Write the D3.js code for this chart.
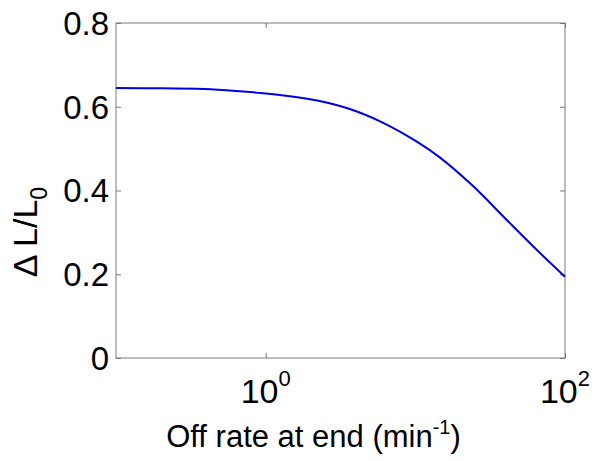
<!DOCTYPE html>
<html>
<head>
<meta charset="utf-8">
<script src="https://cdn.jsdelivr.net/npm/d3@7"></script>
<style>
  body { margin: 0; background: #fff; }
  text { font-family: "Liberation Sans", Arial, sans-serif; fill: #000; }
</style>
</head>
<body>
<svg id="chart" width="600" height="461"></svg>
<script>
// values
const offRate = [0.1, 0.2, 0.43, 0.79, 1.32, 2.21, 3.69, 6.15, 10.3, 14.7, 24.4, 41, 68, 100];
const deltaL  = [0.645, 0.644, 0.642, 0.635, 0.627, 0.615, 0.594, 0.561, 0.516, 0.478, 0.410, 0.329, 0.251, 0.194];

const xTickValues = [1, 100];
const xTickExponents = ['0', '2'];
const yTickValues = [0, 0.2, 0.4, 0.6, 0.8];

const width = 600, height = 461;
const margin = { top: 23, right: 35, bottom: 103, left: 116 };
const innerW = width - margin.left - margin.right;
const innerH = height - margin.top - margin.bottom;

const svg = d3.select('#chart');
const g = svg.append('g').attr('transform', `translate(${margin.left},${margin.top})`);

const x = d3.scaleLog().domain([0.1, 100]).range([0, innerW]);
const y = d3.scaleLinear().domain([0, 0.8]).range([innerH, 0]);

// box
g.append('rect')
  .attr('width', innerW).attr('height', innerH)
  .attr('fill', 'none').attr('stroke', '#7a7a7a').attr('stroke-width', 1);

// ticks point inward, on all four sides
const tickLen = 5;
function styleAxis(sel) {
  sel.select('.domain').remove();
  sel.selectAll('.tick line').attr('stroke', '#7a7a7a');
}

g.append('g').attr('transform', `translate(0,${innerH})`)
  .call(d3.axisBottom(x).tickValues(xTickValues).tickSize(-tickLen).tickFormat(''))
  .call(styleAxis);
g.append('g')
  .call(d3.axisTop(x).tickValues(xTickValues).tickSize(-tickLen).tickFormat(''))
  .call(styleAxis);
g.append('g')
  .call(d3.axisLeft(y).tickValues(yTickValues).tickSize(-tickLen).tickFormat(''))
  .call(styleAxis);
g.append('g').attr('transform', `translate(${innerW},0)`)
  .call(d3.axisRight(y).tickValues(yTickValues).tickSize(-tickLen).tickFormat(''))
  .call(styleAxis);

// y tick labels
g.selectAll('.ylab')
  .data(yTickValues)
  .join('text')
  .attr('class', 'ylab')
  .attr('x', -7)
  .attr('y', d => y(d))
  .attr('dy', '0.36em')
  .attr('text-anchor', 'end')
  .style('font-size', '33px')
  .text(d => d === 0 ? '0' : d.toFixed(1));

// x tick labels as 10^n
const xl = g.selectAll('.xlab')
  .data(xTickValues)
  .join('text')
  .attr('class', 'xlab')
  .attr('x', d => x(d))
  .attr('y', innerH + 45)
  .attr('text-anchor', 'middle')
  .style('font-size', '34px');
xl.append('tspan').text('10');
xl.append('tspan')
  .attr('dy', -17)
  .style('font-size', '22px')
  .text((d, i) => xTickExponents[i]);

// line
const line = d3.line()
  .x((d, i) => x(offRate[i]))
  .y(d => y(d))
  .curve(d3.curveCatmullRom.alpha(0.5));

g.append('path')
  .datum(deltaL)
  .attr('fill', 'none')
  .attr('stroke', '#0000e6')
  .attr('stroke-width', 2)
  .attr('d', line);

// x axis title
const xt = svg.append('text')
  .attr('x', margin.left + innerW / 2 - 27)
  .attr('y', 447)
  .attr('text-anchor', 'middle')
  .style('font-size', '31px');
xt.append('tspan').text('Off rate at end (min');
xt.append('tspan').attr('dy', -13).style('font-size', '20px').text('-1');
xt.append('tspan').attr('dy', 13).text(')');

// y axis title
const yt = svg.append('text')
  .attr('transform', 'translate(37,232) rotate(-90)')
  .attr('text-anchor', 'middle')
  .style('font-size', '34px');
yt.append('tspan').text('\u0394 L/L');
yt.append('tspan').attr('dy', 10).style('font-size', '23px').text('0');
</script>
</body>
</html>
